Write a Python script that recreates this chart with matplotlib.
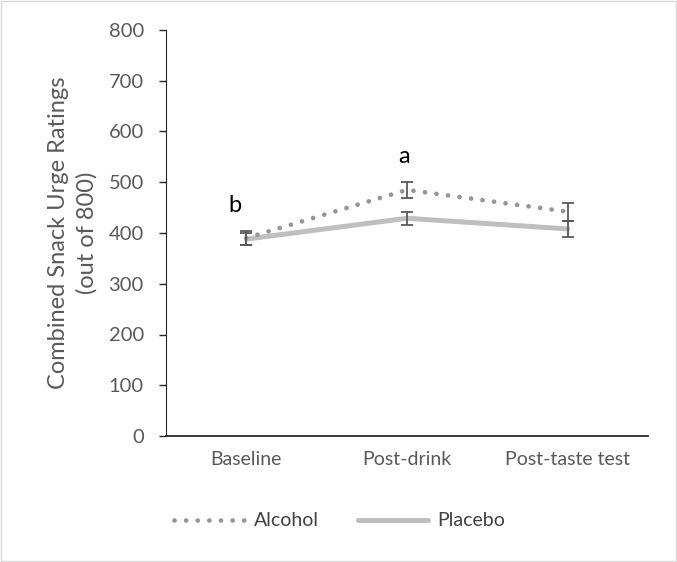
import numpy as np
import matplotlib.pyplot as plt
from matplotlib.lines import Line2D
from matplotlib.patches import Rectangle

plt.rcParams['font.family'] = ['Lato', 'DejaVu Sans']

stages = ['Baseline', 'Post-drink', 'Post-taste test']
alcohol = [390, 485, 442]
alcohol_err = [14, 16, 18]
placebo = [388, 429, 408]
placebo_err = [12, 13, 16]
letters = ['b', 'a', '']

fig = plt.figure(figsize=(6.77, 5.62), dpi=100)
ax = fig.add_axes([166 / 677, 1 - 436 / 562, 482 / 677, 406 / 562])
fig.patches.append(Rectangle((0.001, 0.001), 0.997, 0.997, transform=fig.transFigure,
                             fill=False, edgecolor='#d9d9d9', lw=1))

x = np.arange(len(stages))
dot_style = dict(color='#969696', ls=(0, (0.01, 2.45)), lw=3.4, dash_capstyle='round')
solid_style = dict(color='#bfbfbf', lw=3.6, solid_capstyle='round')

ax.plot(x, alcohol, zorder=3, **dot_style)
ax.plot(x, placebo, zorder=2, **solid_style)
ax.errorbar(x, alcohol, yerr=alcohol_err, fmt='none', ecolor='#595959',
            elinewidth=1.3, capsize=4, capthick=1.3, zorder=4)
ax.errorbar(x, placebo, yerr=placebo_err, fmt='none', ecolor='#595959',
            elinewidth=1.3, capsize=4, capthick=1.3, zorder=4)

# significance letters sit a little left of the points
letter_dx = [-0.07, -0.02, 0]
for i, t in enumerate(letters):
    if t:
        top = max(alcohol[i] + alcohol_err[i], placebo[i] + placebo_err[i])
        ax.text(i + letter_dx[i], top + 30, t, fontsize=17, ha='center', va='bottom', color='black')

ax.set_xlim(-0.5, 2.5)
ax.set_ylim(0, 800)
ax.set_yticks(range(0, 801, 100))
ax.set_xticks(x)
ax.set_xticklabels(stages)
ax.tick_params(axis='x', length=0, pad=11, labelsize=14, colors='#595959')
ax.tick_params(axis='y', length=5, width=1, labelsize=14.5, colors='#595959',
               direction='out', pad=11)
ax.tick_params(axis='y', color='#262626')
for s in ['top', 'right']:
    ax.spines[s].set_visible(False)
ax.spines['bottom'].set_color('#262626')
ax.spines['bottom'].set_linewidth(1.3)
ax.spines['left'].set_color('#262626')
ax.set_ylabel('Combined Snack Urge Ratings\n(out of 800)', fontsize=17, color='#595959',
              labelpad=8, linespacing=1.4)

handles = [Line2D([], [], **dot_style), Line2D([], [], **solid_style)]
leg = ax.legend(handles, ['Alcohol', 'Placebo'], loc='center', bbox_to_anchor=(340 / 677, 1 - 521 / 562),
                bbox_transform=fig.transFigure, ncol=2, frameon=False,
                fontsize=14, handlelength=3.6, handletextpad=0.5, columnspacing=2.0)
for t in leg.get_texts():
    t.set_color('#404040')

fig.savefig('out.png', dpi=100)
